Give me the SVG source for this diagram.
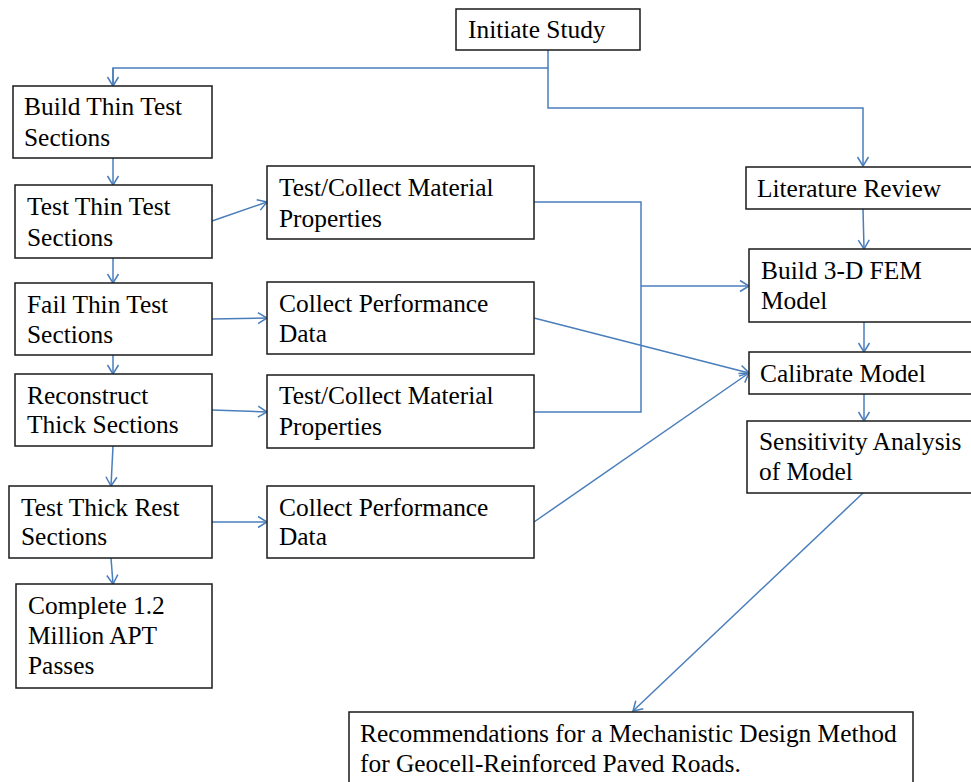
<svg xmlns="http://www.w3.org/2000/svg" width="971" height="782" viewBox="0 0 971 782">
<style>
.box{fill:#fff;stroke:#1a1a1a;stroke-width:1.5}
.t{font-family:"Liberation Serif","Times New Roman","DejaVu Serif",serif;font-size:25.4px;fill:#000}
.c{fill:none;stroke:#4a7ebb;stroke-width:1.5}
.a{marker-end:url(#ah)}
</style>
<defs>
<marker id="ah" markerUnits="userSpaceOnUse" markerWidth="14" markerHeight="14" viewBox="0 0 14 14" refX="12" refY="7" orient="auto">
<path d="M3,1.5 L12,7 L3,12.5" fill="none" stroke="#4a7ebb" stroke-width="1.5"/>
</marker>
</defs>
<rect width="971" height="782" fill="#fff"/>
<g id="connectors">
<path class="c" d="M548,50 V68 H113 V86"/>
<path class="c a" d="M113,68 V86"/>
<path class="c a" d="M548,68 V108 H863 V166"/>
<path class="c a" d="M113,158 V185"/>
<path class="c a" d="M113,258 V283"/>
<path class="c a" d="M113,355 V374"/>
<path class="c a" d="M113,446 L111,486"/>
<path class="c a" d="M111,558 L113,584"/>
<path class="c a" d="M212,221 L267,202"/>
<path class="c a" d="M212,319 L267,318"/>
<path class="c a" d="M212,410 L267,412"/>
<path class="c a" d="M212,522 L267,522"/>
<path class="c" d="M534,202 H641 V412 H534"/>
<path class="c a" d="M641,286 H749"/>
<path class="c a" d="M534,318 L749,373"/>
<path class="c a" d="M534,522 L749,373"/>
<path class="c a" d="M863,209 L864,249"/>
<path class="c a" d="M864,322 V352"/>
<path class="c a" d="M864,394 V421"/>
<path class="c a" d="M863,493 L633,711"/>
</g>
<g id="initiate"><rect class="box" x="456" y="9" width="184" height="41"/><text class="t" x="468" y="38">Initiate Study</text></g>
<g id="buildThin"><rect class="box" x="13" y="86" width="199" height="72"/><text class="t" x="24" y="115">Build Thin Test</text><text class="t" x="24" y="146">Sections</text></g>
<g id="testThin"><rect class="box" x="15" y="185" width="197" height="73"/><text class="t" x="27" y="215">Test Thin Test</text><text class="t" x="27" y="246">Sections</text></g>
<g id="failThin"><rect class="box" x="15" y="283" width="197" height="72"/><text class="t" x="27" y="313">Fail Thin Test</text><text class="t" x="27" y="343">Sections</text></g>
<g id="reconstruct"><rect class="box" x="15" y="374" width="197" height="72"/><text class="t" x="27" y="404">Reconstruct</text><text class="t" x="27" y="433">Thick Sections</text></g>
<g id="testThick"><rect class="box" x="9" y="486" width="203" height="72"/><text class="t" x="21" y="516">Test Thick Rest</text><text class="t" x="21" y="545">Sections</text></g>
<g id="complete"><rect class="box" x="16" y="584" width="196" height="104"/><text class="t" x="28" y="614">Complete 1.2</text><text class="t" x="28" y="644">Million APT</text><text class="t" x="28" y="674">Passes</text></g>
<g id="material1"><rect class="box" x="267" y="166" width="267" height="73"/><text class="t" x="279" y="196">Test/Collect Material</text><text class="t" x="279" y="227">Properties</text></g>
<g id="perf1"><rect class="box" x="267" y="282" width="267" height="72"/><text class="t" x="279" y="312">Collect Performance</text><text class="t" x="279" y="342">Data</text></g>
<g id="material2"><rect class="box" x="267" y="375" width="267" height="73"/><text class="t" x="279" y="404">Test/Collect Material</text><text class="t" x="279" y="435">Properties</text></g>
<g id="perf2"><rect class="box" x="267" y="486" width="267" height="72"/><text class="t" x="279" y="516">Collect Performance</text><text class="t" x="279" y="545">Data</text></g>
<g id="litReview"><rect class="box" x="746" y="167" width="240" height="42"/><text class="t" x="757" y="197">Literature Review</text></g>
<g id="fem"><rect class="box" x="749" y="249" width="240" height="73"/><text class="t" x="761" y="279">Build 3-D FEM</text><text class="t" x="761" y="309">Model</text></g>
<g id="calibrate"><rect class="box" x="749" y="352" width="240" height="42"/><text class="t" x="760" y="382">Calibrate Model</text></g>
<g id="sensitivity"><rect class="box" x="747" y="421" width="240" height="72"/><text class="t" x="759" y="450">Sensitivity Analysis</text><text class="t" x="759" y="480">of Model</text></g>
<g id="recommendations"><rect class="box" x="349" y="712" width="564" height="90"/><text class="t" x="360" y="742">Recommendations for a Mechanistic Design Method</text><text class="t" x="360" y="772">for Geocell-Reinforced Paved Roads.</text></g>
</svg>
